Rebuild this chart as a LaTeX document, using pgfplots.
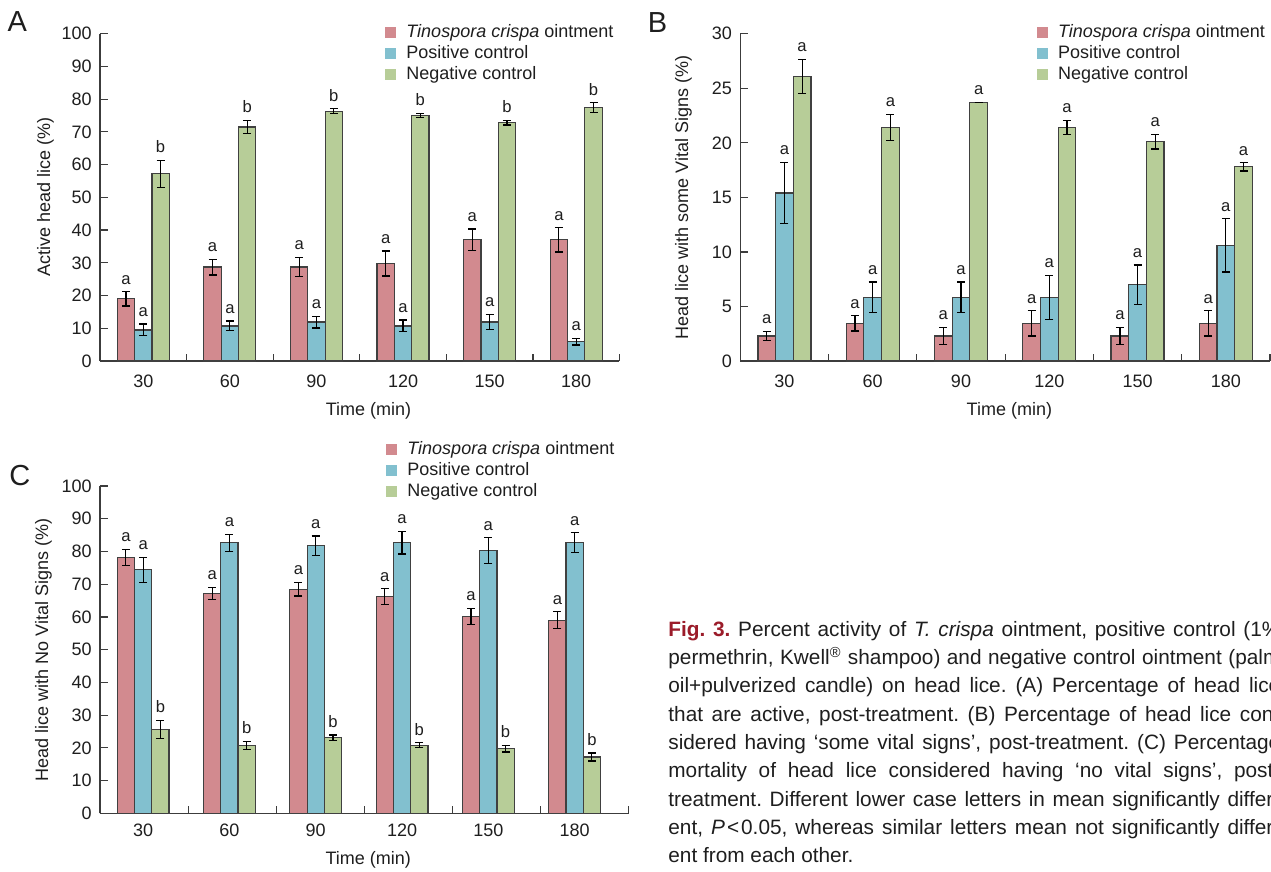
\documentclass[border=0pt]{standalone}
\usepackage{pgfplots}
\pgfplotsset{compat=1.18}
\usepackage{pgfplotstable}
\usepackage{fontspec}
\setmainfont{Liberation Sans}
\frenchspacing
\definecolor{cR}{RGB}{210,138,143}
\definecolor{cB}{RGB}{130,192,207}
\definecolor{cG}{RGB}{183,205,152}
\definecolor{figred}{RGB}{155,28,42}
\definecolor{txt}{RGB}{30,30,30}
\definecolor{axc}{RGB}{60,60,60}

% Panel A
\pgfplotstableread{
x y e l
0 19.0 2.2 a
1 28.7 2.4 a
2 28.7 3.0 a
3 29.8 3.8 a
4 37.0 3.3 a
5 37.0 3.7 a
}\ARed
\pgfplotstableread{
x y e l
0 9.5 1.8 a
1 10.7 1.5 a
2 11.9 1.8 a
3 10.7 1.8 a
4 11.9 2.3 a
5 5.9 1.0 a
}\ABlue
\pgfplotstableread{
x y e l
0 57.2 4.1 b
1 71.5 2.1 b
2 76.3 0.8 b
3 75.1 0.6 b
4 72.8 0.7 b
5 77.4 1.5 b
}\AGreen
% Panel B
\pgfplotstableread{
x y e l
0 2.3 0.4 a
1 3.45 0.7 a
2 2.3 0.8 a
3 3.45 1.15 a
4 2.3 0.8 a
5 3.45 1.15 a
}\BRed
\pgfplotstableread{
x y e l
0 15.4 2.8 a
1 5.84 1.4 a
2 5.84 1.4 a
3 5.84 2.0 a
4 7.0 1.8 a
5 10.6 2.45 a
}\BBlue
\pgfplotstableread{
x y e l
0 26.1 1.55 a
1 21.4 1.2 a
2 23.7 0 a
3 21.4 0.65 a
4 20.1 0.67 a
5 17.8 0.38 a
}\BGreen
% Panel C
\pgfplotstableread{
x y e l
0 78.1 2.5 a
1 67.2 1.9 a
2 68.5 2.1 a
3 66.2 2.4 a
4 60.2 2.4 a
5 59.0 2.6 a
}\CRed
\pgfplotstableread{
x y e l
0 74.4 3.8 a
1 82.7 2.6 a
2 81.7 3.0 a
3 82.7 3.5 a
4 80.3 3.9 a
5 82.7 3.0 a
}\CBlue
\pgfplotstableread{
x y e l
0 25.6 2.8 b
1 20.8 1.2 b
2 23.1 0.8 b
3 20.8 0.75 b
4 19.7 1.0 b
5 17.2 1.2 b
}\CGreen

\pgfplotsset{
  legend image code/.code={\fill[#1,draw=none] (0pt,-2.75pt) rectangle (5.5pt,2.75pt);},
  panel/.style={
    scale only axis, height=163.65pt,
    axis x line*=bottom, axis y line*=left,
    axis line style={axc, line width=0.6pt},
    tick align=inside,
    ymin=0, xmin=-0.5,
    xtick={0,...,5}, xticklabels={30,60,90,120,150,180},
    tick style={axc, line width=0.6pt},
    major x tick style={opacity=0},
    minor tick length=3.5pt, major tick length=4pt,
    tick label style={font=\fontsize{9}{10}\selectfont, text=txt},
    /pgf/number format/assume math mode=true,
    yticklabel style={anchor=east, inner sep=0pt, xshift=-4pt},
    xticklabel style={anchor=north, inner sep=0pt, yshift=-7pt},
    label style={font=\fontsize{9}{10}\selectfont, text=txt},
    clip=false,
    legend cell align=left,
    legend style={draw=none, fill=none, inner sep=0pt, anchor=north west,
      font=\fontsize{9}{10}\selectfont, text=txt, row sep=1.5pt, column sep=5pt,
      nodes={inner sep=0pt, text height=7pt, text depth=2pt}},
  },
  bars/.style={ybar, bar shift=0pt, bar width=0.2, fill=#1, draw=black!75, line width=0.6pt,
     error bars/y dir=both, error bars/y explicit,
     error bars/error bar style={black, line width=0.6pt},
     error bars/error mark options={rotate=90, mark size=2pt, black, line width=0.6pt}},
  lets/.style={draw=none, mark=none, forget plot, nodes near coords, point meta=explicit symbolic,
     nodes near coords style={font=\fontsize{8.3}{9}\selectfont, anchor=south, inner sep=0pt, yshift=3.5pt, text=txt}},
}

\begin{document}
\begin{tikzpicture}
\useasboundingbox (0,0) rectangle (635.5pt,-436pt);

% ---------- Panel A ----------
\begin{axis}[panel, at={(50pt,-180.5pt)}, anchor=south west, width=259.75pt,
  xmax=5.5, ymax=100, ytick={0,10,...,100},
  minor xtick={0.5,1.5,2.5,3.5,4.5,5.5},
  xlabel={Time (min)}, ylabel={Active head lice (\%)},
  xlabel style={at={(axis description cs:0.517,0)}, anchor=north, inner sep=0pt, yshift=-20.5pt},
  ylabel style={at={(axis description cs:-0.105,0.5)}, anchor=center},
  legend style={at={(axis description cs:0.5486,1.0336)}}]
\addplot[bars=cR] table[x expr=\thisrow{x}-0.2, y=y, y error=e]{\ARed};
\addlegendentry{\textit{Tinospora crispa} ointment}
\addplot[bars=cB] table[x=x, y=y, y error=e]{\ABlue};
\addlegendentry{Positive control}
\addplot[bars=cG] table[x expr=\thisrow{x}+0.2, y=y, y error=e]{\AGreen};
\addlegendentry{Negative control}
\addplot[lets] table[x expr=\thisrow{x}-0.2, y expr=\thisrow{y}+\thisrow{e}, meta=l]{\ARed};
\addplot[lets] table[x=x, y expr=\thisrow{y}+\thisrow{e}, meta=l]{\ABlue};
\addplot[lets] table[x expr=\thisrow{x}+0.2, y expr=\thisrow{y}+\thisrow{e}, meta=l]{\AGreen};
\end{axis}

% ---------- Panel B ----------
\begin{axis}[panel, at={(370.15pt,-180.5pt)}, anchor=south west, width=264.85pt,
  xmax=5.5, ymax=30, ytick={0,5,...,30},
  minor xtick={0.5,1.5,2.5,3.5,4.5,5.5},
  xlabel={Time (min)}, ylabel={Head lice with some Vital Signs (\%)},
  xlabel style={at={(axis description cs:0.508,0)}, anchor=north, inner sep=0pt, yshift=-20.5pt},
  ylabel style={at={(axis description cs:-0.1075,0.5)}, anchor=center},
  legend style={at={(axis description cs:0.5595,1.0336)}}]
\addplot[bars=cR] table[x expr=\thisrow{x}-0.2, y=y, y error=e]{\BRed};
\addlegendentry{\textit{Tinospora crispa} ointment}
\addplot[bars=cB] table[x=x, y=y, y error=e]{\BBlue};
\addlegendentry{Positive control}
\addplot[bars=cG] table[x expr=\thisrow{x}+0.2, y=y, y error=e]{\BGreen};
\addlegendentry{Negative control}
\addplot[lets] table[x expr=\thisrow{x}-0.2, y expr=\thisrow{y}+\thisrow{e}, meta=l]{\BRed};
\addplot[lets] table[x=x, y expr=\thisrow{y}+\thisrow{e}, meta=l]{\BBlue};
\addplot[lets] table[x expr=\thisrow{x}+0.2, y expr=\thisrow{y}+\thisrow{e}, meta=l]{\BGreen};
\end{axis}

% ---------- Panel C ----------
\begin{axis}[panel, at={(50pt,-406.65pt)}, anchor=south west, width=264.5pt,
  xmax=5.63, ymax=100, ytick={0,10,...,100},
  minor xtick={0.521,1.542,2.563,3.583,4.604,5.625},
  xlabel={Time (min)}, ylabel={Head lice with No Vital Signs (\%)},
  xticklabel style={yshift=2pt},
  xlabel style={at={(axis description cs:0.507,0)}, anchor=north, inner sep=0pt, yshift=-18.9pt},
  ylabel style={at={(axis description cs:-0.107,0.5)}, anchor=center},
  legend style={at={(axis description cs:0.5406,1.1405)}}]
\addplot[bars=cR] table[x expr=\thisrow{x}-0.2, y=y, y error=e]{\CRed};
\addlegendentry{\textit{Tinospora crispa} ointment}
\addplot[bars=cB] table[x=x, y=y, y error=e]{\CBlue};
\addlegendentry{Positive control}
\addplot[bars=cG] table[x expr=\thisrow{x}+0.2, y=y, y error=e]{\CGreen};
\addlegendentry{Negative control}
\addplot[lets] table[x expr=\thisrow{x}-0.2, y expr=\thisrow{y}+\thisrow{e}, meta=l]{\CRed};
\addplot[lets] table[x=x, y expr=\thisrow{y}+\thisrow{e}, meta=l]{\CBlue};
\addplot[lets] table[x expr=\thisrow{x}+0.2, y expr=\thisrow{y}+\thisrow{e}, meta=l]{\CGreen};
\end{axis}

% panel letters
\node[anchor=base west, inner sep=0pt, font=\fontsize{14.5}{16}\selectfont, text=txt] at (3.65pt,-15.85pt) {A};
\node[anchor=base west, inner sep=0pt, font=\fontsize{14.5}{16}\selectfont, text=txt] at (323.7pt,-16.15pt) {B};
\node[anchor=base west, inner sep=0pt, font=\fontsize{14.5}{16}\selectfont, text=txt] at (4.5pt,-242.5pt) {C};

% caption
\begin{scope}[every node/.style={anchor=base west, inner sep=0pt, font=\fontsize{10.4}{14}\selectfont, text=txt}]
\node at (334pt,-318pt) {\makebox[306pt][s]{\textcolor{figred}{\textbf{Fig. 3.}} Percent activity of \textit{T. crispa} ointment, positive control (1\%}};
\node at (334pt,-332.17pt) {\makebox[306pt][s]{permethrin, Kwell\textsuperscript{®} shampoo) and negative control ointment (palm}};
\node at (334pt,-346.33pt) {\makebox[306pt][s]{oil+pulverized candle) on head lice. (A) Percentage of head lice}};
\node at (334pt,-360.5pt) {\makebox[306pt][s]{that are active, post-treatment. (B) Percentage of head lice con-}};
\node at (334pt,-374.67pt) {\makebox[306pt][s]{sidered having ‘some vital signs’, post-treatment. (C) Percentage}};
\node at (334pt,-388.83pt) {\makebox[306pt][s]{mortality of head lice considered having ‘no vital signs’, post-}};
\node at (334pt,-403pt) {\makebox[306pt][s]{treatment. Different lower case letters in mean significantly differ-}};
\node at (334pt,-417.17pt) {\makebox[306pt][s]{ent, \textit{P}\kern1pt<\kern1pt0.05, whereas similar letters mean not significantly differ-}};
\node at (334pt,-431.33pt) {ent from each other.};
\end{scope}
\end{tikzpicture}
\end{document}
